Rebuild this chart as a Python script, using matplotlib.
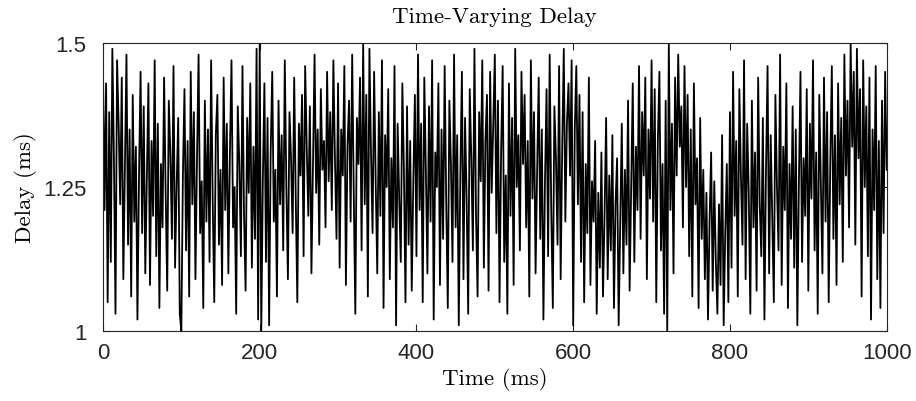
import numpy as np
import matplotlib
matplotlib.use('Agg')
from matplotlib import pyplot as plt

plt.rcParams['font.family'] = ['Liberation Sans', 'DejaVu Sans']

# delay samples (ms), one every 2 ms from 0 to 1000 ms, read by eye
delay = [
    1.46, 1.21, 1.43, 1.05, 1.38, 1.12, 1.49, 1.30, 1.03, 1.47, 1.36, 1.22, 1.44, 1.09, 1.28, 1.48, 1.15, 1.35, 1.06, 1.41,
    1.19, 1.32, 1.02, 1.27, 1.45, 1.17, 1.39, 1.10, 1.26, 1.43, 1.08, 1.33, 1.20, 1.47, 1.13, 1.36, 1.04, 1.29, 1.18, 1.44,
    1.24, 1.07, 1.40, 1.31, 1.16, 1.46, 1.11, 1.25, 1.37, 1.03,
    1.00, 1.27, 1.42, 1.14, 1.33, 1.06, 1.45, 1.22, 1.38, 1.09, 1.30, 1.48, 1.17, 1.26, 1.04, 1.40, 1.19, 1.35, 1.12, 1.47,
    1.23, 1.05, 1.34, 1.41, 1.15, 1.28, 1.08, 1.44, 1.21, 1.36, 1.10, 1.31, 1.47, 1.18, 1.25, 1.03, 1.39, 1.29, 1.13, 1.46,
    1.20, 1.07, 1.37, 1.24, 1.43, 1.11, 1.32, 1.16, 1.49, 1.02,
    1.50, 1.00, 1.26, 1.43, 1.12, 1.37, 1.01, 1.31, 1.45, 1.19, 1.28, 1.06, 1.40, 1.22, 1.34, 1.14, 1.47, 1.25, 1.09, 1.38,
    1.30, 1.17, 1.44, 1.23, 1.05, 1.36, 1.27, 1.41, 1.13, 1.46, 1.32, 1.20, 1.39, 1.10, 1.29, 1.48, 1.24, 1.35, 1.15, 1.42,
    1.28, 1.33, 1.18, 1.45, 1.26, 1.38, 1.21, 1.47, 1.30, 1.16,
    1.43, 1.11, 1.35, 1.27, 1.46, 1.08, 1.32, 1.40, 1.19, 1.48, 1.24, 1.03, 1.37, 1.29, 1.44, 1.14, 1.50, 1.22, 1.41, 1.06,
    1.49, 1.31, 1.17, 1.45, 1.26, 1.10, 1.38, 1.20, 1.47, 1.04, 1.34, 1.25, 1.42, 1.09, 1.30, 1.18, 1.46, 1.01, 1.36, 1.23,
    1.12, 1.43, 1.28, 1.05, 1.39, 1.15, 1.33, 1.07, 1.26, 1.41,
    1.13, 1.48, 1.21, 1.36, 1.05, 1.44, 1.28, 1.10, 1.39, 1.19, 1.47, 1.02, 1.31, 1.25, 1.43, 1.08, 1.35, 1.16, 1.46, 1.22,
    1.04, 1.40, 1.29, 1.12, 1.48, 1.18, 1.34, 1.01, 1.27, 1.45, 1.09, 1.37, 1.23, 1.03, 1.42, 1.30, 1.14, 1.49, 1.20, 1.06,
    1.38, 1.26, 1.47, 1.11, 1.33, 1.41, 1.07, 1.45, 1.24, 1.36,
    1.48, 1.17, 1.40, 1.05, 1.31, 1.46, 1.12, 1.27, 1.03, 1.43, 1.20, 1.37, 1.08, 1.49, 1.25, 1.34, 1.14, 1.45, 1.29, 1.41,
    1.18, 1.33, 1.06, 1.47, 1.23, 1.38, 1.10, 1.28, 1.44, 1.16, 1.35, 1.02, 1.26, 1.42, 1.13, 1.48, 1.21, 1.04, 1.39, 1.30,
    1.15, 1.46, 1.09, 1.32, 1.49, 1.19, 1.36, 1.43, 1.27, 1.47,
    1.01, 1.35, 1.46, 1.22, 1.41, 1.12, 1.38, 1.05, 1.29, 1.17, 1.44, 1.08, 1.26, 1.19, 1.33, 1.03, 1.24, 1.11, 1.31, 1.06,
    1.20, 1.37, 1.09, 1.27, 1.14, 1.34, 1.04, 1.22, 1.30, 1.01, 1.18, 1.36, 1.10, 1.28, 1.15, 1.40, 1.07, 1.25, 1.43, 1.12,
    1.32, 1.21, 1.46, 1.16, 1.38, 1.27, 1.44, 1.09, 1.35, 1.23,
    1.47, 1.19, 1.42, 1.05, 1.33, 1.45, 1.14, 1.29, 1.03, 1.40, 1.00, 1.50, 1.21, 1.36, 1.10, 1.44, 1.27, 1.48, 1.32, 1.39,
    1.18, 1.46, 1.25, 1.41, 1.13, 1.35, 1.06, 1.43, 1.22, 1.30, 1.04, 1.37, 1.16, 1.28, 1.09, 1.24, 1.02, 1.19, 1.31, 1.07,
    1.26, 1.12, 1.03, 1.22, 1.08, 1.34, 1.01, 1.17, 1.29, 1.05,
    1.38, 1.11, 1.45, 1.20, 1.33, 1.06, 1.42, 1.27, 1.15, 1.47, 1.09, 1.36, 1.24, 1.03, 1.40, 1.18, 1.31, 1.07, 1.44, 1.22,
    1.13, 1.37, 1.02, 1.28, 1.46, 1.10, 1.34, 1.19, 1.05, 1.41, 1.25, 1.14, 1.48, 1.08, 1.32, 1.21, 1.43, 1.04, 1.29, 1.16,
    1.39, 1.11, 1.35, 1.01, 1.26, 1.45, 1.12, 1.30, 1.20, 1.42,
    1.07, 1.36, 1.23, 1.47, 1.14, 1.31, 1.03, 1.41, 1.26, 1.10, 1.44, 1.19, 1.38, 1.05, 1.29, 1.46, 1.16, 1.34, 1.08, 1.43,
    1.22, 1.37, 1.12, 1.48, 1.27, 1.40, 1.18, 1.50, 1.32, 1.45, 1.15, 1.49, 1.30, 1.42, 1.06, 1.47, 1.25, 1.39, 1.13, 1.44,
    1.02, 1.35, 1.21, 1.46, 1.09, 1.33, 1.04, 1.40, 1.17, 1.45,
    1.28,
]
time = np.linspace(0, 1000, len(delay))

x_ticks = [0, 200, 400, 600, 800, 1000]
x_tick_labels = ['0', '200', '400', '600', '800', '1000']
y_ticks = [1, 1.25, 1.5]
y_tick_labels = ['1', '1.25', '1.5']

fig = plt.figure(figsize=(9.16, 4.02), dpi=100)
ax = fig.add_axes([0.1124, 0.174, 0.8556, 0.7165])
ax.plot(time, delay, color='black', linewidth=1.3)

ax.set_xlim(0, 1000)
ax.set_ylim(1, 1.5)
ax.set_xticks(x_ticks)
ax.set_yticks(y_ticks)
ax.set_xticklabels(x_tick_labels)
ax.set_yticklabels(y_tick_labels)
for lbl in ax.get_xticklabels() + ax.get_yticklabels():
    lbl.set_fontfamily('Liberation Sans')
    lbl.set_fontsize(16)
ax.tick_params(direction='in', top=True, right=True, length=5, width=0.8,
               colors='#262626')
ax.tick_params(axis='x', pad=8)
ax.tick_params(axis='y', pad=12)
for s in ax.spines.values():
    s.set_color('#262626')
    s.set_linewidth(0.8)

ax.set_title('Time-Varying Delay', fontfamily='cmr10', fontsize=16.5, pad=15)
ax.set_xlabel('Time (ms)', fontfamily='cmr10', fontsize=16.5, labelpad=3)
ax.set_ylabel('Delay (ms)', fontfamily='cmr10', fontsize=16.5, labelpad=4)

fig.savefig('out.png', dpi=100)
